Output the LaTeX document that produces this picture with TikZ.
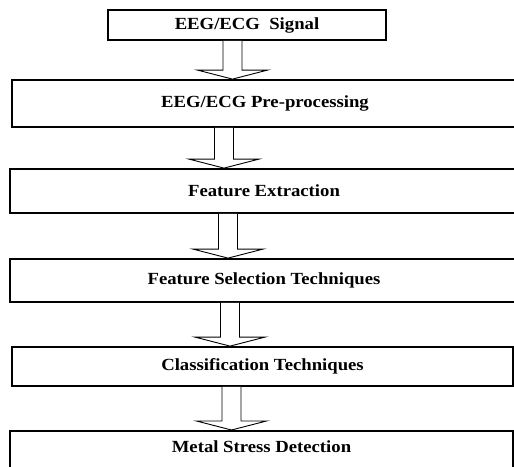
\documentclass[tikz,border=0pt]{standalone}
\usepackage{fontspec}
\setmainfont{Liberation Serif}[FakeStretch=1.1]
\usetikzlibrary{calc}

\tikzset{
  stagebox/.style={draw=black, line width=1.8pt, fill=white, inner sep=0pt,
    font=\fontsize{17}{19}\selectfont\bfseries},
  blockarrow/.style={draw=black, line width=0.9pt, fill=white, line join=miter}
}

% hollow down arrow from node #1 to node #2, centred at x = #3 (pt)
\newcommand\flowarrow[3]{%
  \draw[blockarrow] let \p1=(#1.south), \p2=(#2.north) in
    (#3pt-9.5pt,\y1) -- (#3pt-9.5pt,\y2+9pt) -- (#3pt-35pt,\y2+9pt) --
    (#3pt,\y2) -- (#3pt+35pt,\y2+9pt) -- (#3pt+9.5pt,\y2+9pt) --
    (#3pt+9.5pt,\y1);%
}

\begin{document}
\begin{tikzpicture}[x=1pt,y=-1pt]
  \useasboundingbox[fill=white] (0,0) rectangle (514,466);

  \node[stagebox, minimum width=278pt, minimum height=30pt] (sig) at (247,25)
    {EEG/ECG\ \ Signal};
  \node[stagebox, minimum width=506pt, minimum height=47pt] (pre) at (265,103.5)
    {EEG/ECG Pre-processing};
  \node[stagebox, minimum width=508pt, minimum height=44pt] (fext) at (264,191)
    {Feature Extraction};
  \node[stagebox, minimum width=508pt, minimum height=43pt] (fsel) at (264,280.5)
    {Feature Selection Techniques};
  \node[stagebox, minimum width=501pt, minimum height=39pt] (cls) at (262.5,366.5)
    {Classification Techniques};
  \node[stagebox, minimum width=503pt, minimum height=44pt, text depth=0pt,
    text height=12pt, anchor=north] (det) at (261.5,430)
    {\raisebox{6pt}{Metal Stress Detection}};

  \flowarrow{sig}{pre}{232.5}
  \flowarrow{pre}{fext}{224}
  \flowarrow{fext}{fsel}{228}
  \flowarrow{fsel}{cls}{230}
  \flowarrow{cls}{det}{231.5}
\end{tikzpicture}
\end{document}
